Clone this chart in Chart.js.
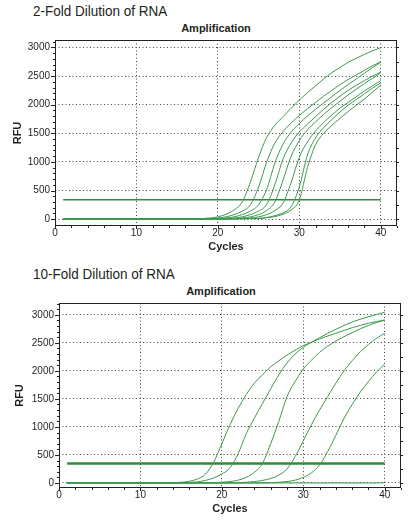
<!DOCTYPE html>
<html>
<head>
<meta charset="utf-8">
<script src="https://cdn.jsdelivr.net/npm/chart.js@4/dist/chart.umd.min.js"></script>
<style>
  html, body { margin: 0; padding: 0; background: #fff; }
  body { width: 413px; height: 525px; position: relative; overflow: hidden; font-family: "Liberation Sans", Arial, sans-serif; color: #231f20; }
  .heading { position: absolute; left: 33px; font-size: 15px; line-height: 15px; white-space: nowrap; transform: scaleX(0.9); transform-origin: left top; }
  .plot-title { position: absolute; width: 120px; text-align: center; font-size: 11px; line-height: 11px; font-weight: bold; }
  .box { position: absolute; left: 0; width: 413px; }
</style>
</head>
<body>
<div class="heading" style="top:3px">2-Fold Dilution of RNA</div>
<div class="plot-title" style="top:23px; left:156px">Amplification</div>
<div class="box" style="top:0; height:262px"><canvas id="twoFold"></canvas></div>

<div class="heading" style="top:266px">10-Fold Dilution of RNA</div>
<div class="plot-title" style="top:286px; left:161px">Amplification</div>
<div class="box" style="top:262px; height:263px"><canvas id="tenFold"></canvas></div>

<script>
// cycle numbers shared by every trace
const cycles = [1,2,3,4,5,6,7,8,9,10,11,12,13,14,15,16,17,18,19,20,
  21,22,23,24,25,26,27,28,29,30,31,32,33,34,35,36,37,38,39,40];

// 2-fold dilution series (RFU per cycle)
const twoFold1 = [5,5,5,5,5,5,5,5,5,5,5,5,5,5,5,5,5,8,20,40,
  85,160,300,650,1080,1430,1640,1790,1940,2080,2210,2330,2450,2560,2650,2740,2810,2880,2940,2995];
const twoFold2 = [0,0,0,0,0,0,0,0,0,0,0,0,0,0,0,0,0,5,8,20,
  40,80,140,250,560,1000,1330,1530,1680,1810,1930,2040,2150,2250,2350,2440,2520,2600,2680,2750];
const twoFold3 = [10,10,10,10,10,10,10,10,10,10,10,10,10,10,10,10,10,10,10,10,
  20,40,80,140,250,520,980,1310,1520,1670,1800,1920,2030,2140,2250,2350,2450,2550,2650,2740];
const twoFold4 = [5,5,5,5,5,5,5,5,5,5,5,5,5,5,5,5,5,5,5,5,
  5,20,40,80,140,260,600,1050,1330,1520,1660,1790,1920,2040,2150,2250,2340,2420,2500,2570];
const twoFold5 = [0,0,0,0,0,0,0,0,0,0,0,0,0,0,0,0,0,0,0,5,
  10,12,20,40,80,150,300,680,1100,1370,1560,1700,1830,1950,2060,2170,2270,2370,2460,2555];
const twoFold6 = [5,5,5,5,5,5,5,5,5,5,5,5,5,5,5,5,5,5,5,5,
  5,8,12,20,40,80,150,280,640,1080,1350,1540,1690,1820,1940,2040,2140,2240,2330,2420];
const twoFold7 = [0,0,0,0,0,0,0,0,0,0,0,0,0,0,0,0,0,0,0,0,
  0,5,8,10,15,30,60,110,220,560,1120,1420,1600,1740,1870,1990,2090,2190,2290,2380];
const twoFold8 = [5,5,5,5,5,5,5,5,5,5,5,5,5,5,5,5,5,5,5,5,
  5,5,5,8,10,25,45,85,160,330,900,1300,1500,1640,1760,1880,1990,2100,2220,2340];
const twoFoldThreshold = 340;

// 10-fold dilution series (RFU per cycle)
const tenFold1 = [0,0,0,0,0,0,0,0,0,0,0,0,0,5,12,30,70,160,370,700,
  1040,1330,1580,1780,1930,2070,2180,2280,2370,2450,2510,2570,2620,2670,2720,2770,2810,2850,2880,2905];
const tenFold2 = [0,0,0,0,0,0,0,0,0,0,0,0,0,0,0,8,20,45,90,160,
  270,520,880,1160,1420,1680,1930,2140,2300,2420,2510,2590,2670,2740,2810,2870,2920,2965,3005,3045];
const tenFold3 = [0,0,0,0,0,0,0,0,0,0,0,0,0,0,0,0,0,0,5,12,
  25,50,100,190,350,700,1100,1540,1810,2030,2190,2330,2440,2530,2610,2680,2750,2810,2860,2905];
const tenFold4 = [0,0,0,0,0,0,0,0,0,0,0,0,0,0,0,0,0,0,0,0,
  0,5,12,25,45,80,140,250,470,750,1040,1300,1540,1780,2000,2180,2340,2470,2580,2670];
const tenFold5 = [0,0,0,0,0,0,0,0,0,0,0,0,0,0,0,0,0,0,0,0,
  0,0,0,0,0,5,12,25,50,100,180,320,560,850,1150,1400,1620,1810,1980,2120];
const tenFoldNtc = [0,0,0,0,0,0,0,0,0,0,0,0,0,0,0,0,0,0,0,0,
  0,0,0,0,0,0,0,0,0,0,0,0,0,0,0,0,0,0,0,5];
const tenFoldThreshold = 347;

const xTicks = [0, 10, 20, 30, 40];
const yTicks = [0, 500, 1000, 1500, 2000, 2500, 3000];

const INK = "#231f20";
const CURVE = "#3b9a4d";
const THRESH = "#2e8b3e";

// plot frame plus the small tick marks round it
const frameTicks = {
  id: "frameTicks",
  afterDraw(chart) {
    const { ctx, chartArea: a, scales: { x, y } } = chart;
    ctx.save();
    ctx.strokeStyle = "#222";
    ctx.lineWidth = 1;
    ctx.strokeRect(a.left + 0.5, a.top + 0.5, a.width - 1, a.height - 1);
    ctx.beginPath();
    for (let c = 0; c <= x.max; c += 2) {
      const px = Math.round(x.getPixelForValue(c)) + 0.5;
      ctx.moveTo(px, a.bottom);
      ctx.lineTo(px, a.bottom + (c % 10 ? 2 : 3));
    }
    for (let v = 0; v <= y.max; v += 100) {
      const py = Math.round(y.getPixelForValue(v)) + 0.5;
      ctx.moveTo(a.left - (v % 500 ? 2 : 4), py);
      ctx.lineTo(a.left + 1, py);
    }
    for (let v = 0; v <= y.max; v += 250) {
      const py = Math.round(y.getPixelForValue(v)) + 0.5;
      ctx.moveTo(a.right - 1, py);
      ctx.lineTo(a.right + 2, py);
    }
    ctx.stroke();
    ctx.restore();
  }
};

function curve(values) {
  return {
    data: values,
    borderColor: CURVE,
    borderWidth: 1,
    pointRadius: 0,
    cubicInterpolationMode: "monotone",
    fill: false
  };
}

function thresholdLine(value, width) {
  return {
    data: [{ x: cycles[0], y: value }, { x: cycles[cycles.length - 1], y: value }],
    borderColor: THRESH,
    borderWidth: width,
    pointRadius: 0,
    fill: false
  };
}

function makeChart(id, series, threshold, o) {
  const datasets = series.map(curve);
  datasets.push(thresholdLine(threshold, o.threshWidth));
  return new Chart(document.getElementById(id), {
    type: "line",
    data: { labels: cycles, datasets },
    plugins: [frameTicks],
    options: {
      responsive: true,
      maintainAspectRatio: false,
      animation: false,
      layout: { padding: { top: o.top, right: o.right, left: 0, bottom: 0 } },
      plugins: { legend: { display: false }, tooltip: { enabled: false }, title: { display: false } },
      scales: {
        x: {
          type: "linear",
          min: 0,
          max: 42,
          afterBuildTicks: (s) => { s.ticks = xTicks.map((v) => ({ value: v })); },
          afterFit: (s) => { s.height = o.xHeight; },
          ticks: { padding: 1, color: INK, font: { family: "Liberation Sans, Arial", size: 10 }, maxRotation: 0 },
          grid: { color: "#444", lineWidth: 1, drawTicks: false },
          border: { display: false, dash: [1, 2.5] },
          title: { display: true, text: "Cycles", color: INK, font: { family: "Liberation Sans, Arial", size: 11, weight: "bold" }, padding: { top: 0, bottom: o.cyclesPad } }
        },
        y: {
          type: "linear",
          min: o.yMin,
          max: o.yMax,
          afterBuildTicks: (s) => { s.ticks = yTicks.map((v) => ({ value: v })); },
          afterFit: (s) => { s.width = o.yWidth; },
          ticks: { padding: 5, color: INK, font: { family: "Liberation Sans, Arial", size: 10 }, callback: (v) => String(v) },
          grid: { color: "#444", lineWidth: 1, drawTicks: false },
          border: { display: false, dash: [1, 2.5] },
          title: { display: true, text: "RFU", color: INK, font: { family: "Liberation Sans, Arial", size: 11, weight: "bold" }, padding: { top: o.rfuPad, bottom: 0 } }
        }
      }
    }
  });
}

makeChart("twoFold",
  [twoFold1, twoFold2, twoFold3, twoFold4, twoFold5, twoFold6, twoFold7, twoFold8],
  twoFoldThreshold,
  { top: 40, right: 16, xHeight: 36, yWidth: 55, yMin: -120, yMax: 3130, cyclesPad: 8, rfuPad: 11, threshWidth: 1.5 });

makeChart("tenFold",
  [tenFold1, tenFold2, tenFold3, tenFold4, tenFold5, tenFoldNtc],
  tenFoldThreshold,
  { top: 41, right: 12, xHeight: 37, yWidth: 59, yMin: -90, yMax: 3210, cyclesPad: 9, rfuPad: 13, threshWidth: 2.5 });
</script>
</body>
</html>
